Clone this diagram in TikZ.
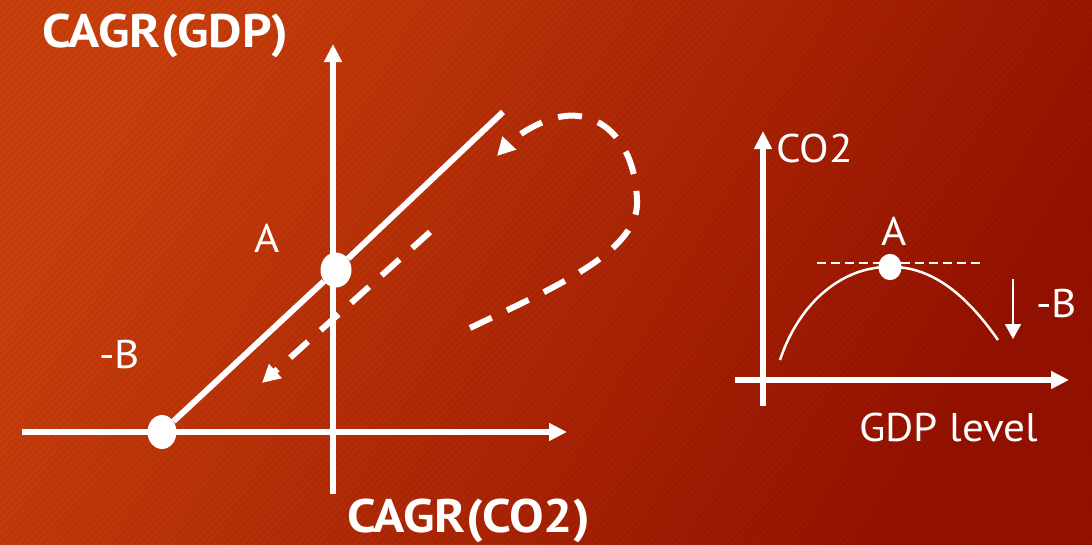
\documentclass[tikz,border=0pt]{standalone}
\usepackage{fontspec}
\setmainfont{PT Sans}
\newfontfamily\boldlab[FakeStretch=1.1]{PT Sans Bold}
\newfontfamily\reglab[FakeStretch=1.08]{PT Sans}
\usetikzlibrary{arrows.meta,shapes.geometric}
\definecolor{bgA}{RGB}{204,64,12}
\definecolor{bgB}{RGB}{150,17,0}
\begin{document}
\begin{tikzpicture}[x=1pt,y=-1pt,
  axis/.style={white,line width=6pt,-{Triangle[length=18pt,width=17pt]}},
  thick line/.style={white,line width=6pt},
  dashline/.style={white,line width=6pt,dash pattern=on 24pt off 17pt,-{Triangle[length=18pt,width=18pt]}},
  thin line/.style={white,line width=2.5pt},
  dot/.style={ellipse,fill=white,inner sep=0pt},
  lab/.style={text=white,inner sep=0pt,anchor=base west,font=\reglab\fontsize{40}{44}\selectfont},
  blab/.style={text=white,inner sep=0pt,anchor=base west,font=\boldlab\fontsize{47}{52}\selectfont}]
\useasboundingbox (0,0) rectangle (1092,544);
\shade[left color=bgA,right color=bgB,shading angle=60] (0,0) rectangle (1092,544);
\begin{scope}
\clip (0,0) rectangle (1092,544);
\foreach \k in {0,7,...,1650} {
  \draw[black,opacity=0.05,line width=3pt] (\k-560,544) -- (\k,-16);
}
\end{scope}
% left diagram
\coordinate (hx0) at (22,432);
\coordinate (hx1) at (567,432);
\coordinate (vy0) at (333,494);
\coordinate (vy1) at (333,44);
\draw[axis] (hx0) -- (hx1);
\draw[axis] (vy0) -- (vy1);
\node[dot,minimum width=29pt,minimum height=34pt] (B) at (162,432) {};
\node[dot,minimum width=31pt,minimum height=35pt] (A) at (336,270) {};
\coordinate (diagEnd) at (503,112);
\draw[thick line] (B) -- (A) -- (diagEnd);
\coordinate (d0) at (430,232);
\coordinate (d1) at (262,383);
\draw[dashline] (d0) -- (d1);
\coordinate (c0) at (470,328);
\coordinate (c1) at (637,200);
\coordinate (c2) at (565,116);
\coordinate (c3) at (497,156);
\draw[dashline] (c0) .. controls (560,285) and (640,250) .. (c1)
  .. controls (635,140) and (600,112) .. (c2)
  .. controls (540,119) and (515,137) .. (c3);
\node[blab] (ygdp) at (42,47) {CAGR(GDP)};
\node[blab] (xco2) at (347,532) {CAGR(CO2)};
\node[lab,anchor=base] (Alab) at (267,252) {A};
\node[lab] (Blab) at (99,368) {-B};
% right diagram
\coordinate (rh0) at (735,380);
\coordinate (rh1) at (1069,380);
\coordinate (rv0) at (763,406);
\coordinate (rv1) at (763,131);
\draw[axis] (rh0) -- (rh1);
\draw[axis] (rv0) -- (rv1);
\coordinate (h0) at (817,263);
\coordinate (h1) at (984,263);
\draw[white,line width=2pt,dash pattern=on 9pt off 5pt] (h0) -- (h1);
\coordinate (p0) at (780,360);
\coordinate (p2) at (998,340);
\node[dot,minimum width=23pt,minimum height=26pt] (RA) at (890,267) {};
\draw[thin line] (p0) .. controls (800,300) and (845,266) .. (RA.center)
  .. controls (935,266) and (970,300) .. (p2);
\node[dot,minimum width=23pt,minimum height=26pt] at (RA) {};
\coordinate (ar0) at (1013,279);
\coordinate (ar1) at (1013,339);
\draw[white,line width=2pt,-{Triangle[length=15pt,width=16pt]}] (ar0) -- (ar1);
\node[lab] (co2) at (776,162) {CO2};
\node[lab,anchor=base] (RAlab) at (894,245) {A};
\node[lab] (RBlab) at (1036,317) {-B};
\node[lab] (gdpl) at (859,441) {GDP level};
\end{tikzpicture}
\end{document}
